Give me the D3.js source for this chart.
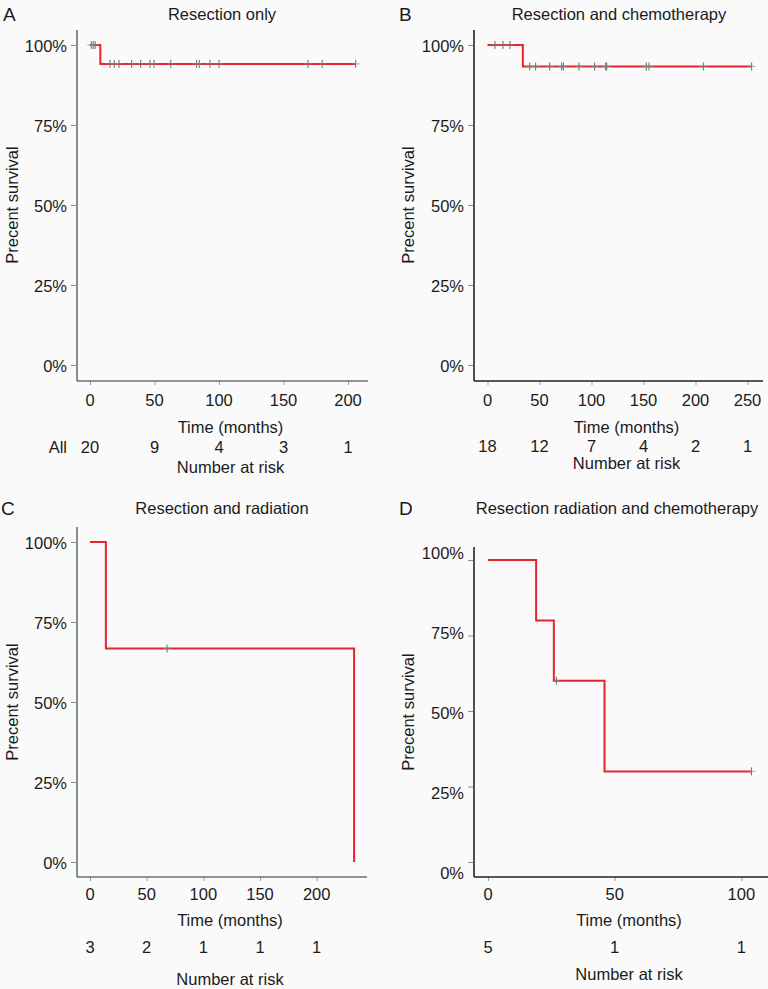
<!DOCTYPE html>
<html>
<head>
<meta charset="utf-8">
<script src="https://cdn.jsdelivr.net/npm/d3@7"></script>
<style>
  body { margin: 0; background: #fafafa; }
  svg { display: block; font-family: "Liberation Sans", Arial, sans-serif; }
  text { fill: #1a1a1a; }
</style>
</head>
<body>
<svg id="chart" width="768" height="989"></svg>
<script>
// ---- data ----
const xTicksA = [0, 50, 100, 150, 200];
const stepTimeA = [0, 8, 206];
const stepSurvA = [1, 0.941, 0.941];
const censorA = [1, 2.5, 4, 15.5, 18.8, 22.5, 32.3, 39.3, 46.5, 49.6, 62.6, 82.7, 84.7, 93, 100, 169, 180, 206];
const riskA = [20, 9, 4, 3, 1];

const xTicksB = [0, 50, 100, 150, 200, 250];
const stepTimeB = [0, 34, 254];
const stepSurvB = [1, 0.933, 0.933];
const censorB = [7.2, 14.9, 21.6, 40.6, 46.3, 59.8, 71.3, 72.9, 88, 103, 113.7, 114.6, 152.7, 155.3, 207.5, 254];
const riskB = [18, 12, 7, 4, 2, 1];

const xTicksC = [0, 50, 100, 150, 200];
const stepTimeC = [0, 14, 233];
const stepSurvC = [1, 0.667, 0];
const censorC = [68];
const riskC = [3, 2, 1, 1, 1];

const xTicksD = [0, 50, 100];
const stepTimeD = [0, 19, 26, 46, 104];
const stepSurvD = [1, 0.8, 0.6, 0.3, 0.3];
const censorD = [27, 104];
const riskD = [5, 1, 1];

const yTicks = [0, 0.25, 0.5, 0.75, 1];

// ---- panel layout ----
const panels = [
  { letter: 'A', title: 'Resection only', titleX: 222, titleY: 14, letterX: 3,
    xDomain: [0, 200], xRange: [90, 348], xTicks: xTicksA, yRange: [365, 45],
    axisX: 77, axisTop: 30, axisY: 381, axisRight: 368, axisColor: '#6c7074',
    tickY: 400, timeY: 427, riskY: 447, riskLabelY: 467, ylabX: 12, ylabY: 205,
    risk: riskA, riskName: 'All', times: stepTimeA, surv: stepSurvA, censor: censorA },
  { letter: 'B', title: 'Resection and chemotherapy', titleX: 619, titleY: 14, letterX: 399,
    xDomain: [0, 250], xRange: [487.5, 747.5], xTicks: xTicksB, yRange: [365, 45],
    axisX: 474, axisTop: 30, axisY: 381, axisRight: 763, axisColor: '#222',
    tickY: 400, timeY: 427, riskY: 446, riskLabelY: 463, ylabX: 408, ylabY: 205,
    risk: riskB, times: stepTimeB, surv: stepSurvB, censor: censorB },
  { letter: 'C', title: 'Resection and radiation', titleX: 222, titleY: 508, letterX: 1,
    xDomain: [0, 200], xRange: [90, 316.7], xTicks: xTicksC, yRange: [862, 542],
    axisX: 77, axisTop: 527, axisY: 877, axisRight: 367, axisColor: '#6c7074',
    tickY: 894, timeY: 920, riskY: 947, riskLabelY: 979, ylabX: 12, ylabY: 702,
    risk: riskC, times: stepTimeC, surv: stepSurvC, censor: censorC },
  { letter: 'D', title: 'Resection radiation and chemotherapy', titleX: 617, titleY: 508, letterX: 399,
    xDomain: [0, 100], xRange: [488, 741.3], xTicks: xTicksD, yRange: [862, 560], labelRange: [872, 552],
    axisX: 474, axisTop: 547, axisY: 877, axisRight: 768, axisColor: '#222',
    tickY: 894, timeY: 920, riskY: 947, riskLabelY: 974, ylabX: 408, ylabY: 712,
    risk: riskD, times: stepTimeD, surv: stepSurvD, censor: censorD }
];

const svg = d3.select('#chart');
const fmt = d3.format('.0%');
const fs = '16.5px';

panels.forEach(p => {
  const g = svg.append('g');
  const x = d3.scaleLinear().domain(p.xDomain).range(p.xRange);
  const y = d3.scaleLinear().domain([0, 1]).range(p.yRange);
  const yLab = d3.scaleLinear().domain([0, 1]).range(p.labelRange || p.yRange);

  // title + panel letter
  g.append('text').attr('x', p.titleX).attr('y', p.titleY).attr('dy', '0.35em')
    .attr('text-anchor', 'middle').style('font-size', fs).text(p.title);
  g.append('text').attr('x', p.letterX).attr('y', p.titleY).attr('dy', '0.36em')
    .style('font-size', '19px').text(p.letter);

  // y axis ticks (labels drawn separately so they can sit off the ticks as in D)
  const yAxisG = g.append('g').attr('transform', `translate(${p.axisX - 1},0)`)
    .call(d3.axisLeft(y).tickValues(yTicks).tickSize(5).tickSizeOuter(0).tickFormat(''));
  yAxisG.select('.domain').remove();
  yAxisG.selectAll('line').attr('stroke', '#8a8e92');
  g.selectAll('.ylab').data(yTicks).join('text')
    .attr('x', p.axisX - 10).attr('y', d => yLab(d) + 1).attr('dy', '0.35em')
    .attr('text-anchor', 'end').style('font-size', fs).text(d => fmt(d));

  // x axis ticks
  const xAxisG = g.append('g').attr('transform', `translate(0,${p.axisY})`)
    .call(d3.axisBottom(x).tickValues(p.xTicks).tickSize(4).tickSizeOuter(0).tickFormat(''));
  xAxisG.select('.domain').remove();
  xAxisG.selectAll('line').attr('stroke', '#9a9ea2');
  g.selectAll('.xlab').data(p.xTicks).join('text')
    .attr('x', d => x(d)).attr('y', p.tickY).attr('dy', '0.35em')
    .attr('text-anchor', 'middle').style('font-size', fs).text(d => d);

  // axis lines
  g.append('line').attr('x1', p.axisX).attr('x2', p.axisX).attr('y1', p.axisTop).attr('y2', p.axisY)
    .attr('stroke', p.axisColor).attr('stroke-width', 1.6);
  g.append('line').attr('x1', p.axisX).attr('x2', p.axisRight).attr('y1', p.axisY).attr('y2', p.axisY)
    .attr('stroke', p.axisColor).attr('stroke-width', 1.6);

  // axis titles
  const xMid = (p.axisX + p.axisRight) / 2;
  g.append('text').attr('x', xMid + 8).attr('y', p.timeY).attr('dy', '0.35em')
    .attr('text-anchor', 'middle').style('font-size', fs).text('Time (months)');
  g.append('text').attr('transform', `translate(${p.ylabX},${p.ylabY}) rotate(-90)`)
    .attr('dy', '0.35em').attr('text-anchor', 'middle').style('font-size', fs).text('Precent survival');

  // number at risk
  g.selectAll('.risk').data(p.risk).join('text')
    .attr('x', (d, i) => x(p.xTicks[i])).attr('y', p.riskY).attr('dy', '0.35em')
    .attr('text-anchor', 'middle').style('font-size', fs).text(d => d);
  if (p.riskName) {
    g.append('text').attr('x', p.axisX - 10).attr('y', p.riskY).attr('dy', '0.35em')
      .attr('text-anchor', 'end').style('font-size', fs).text(p.riskName);
  }
  g.append('text').attr('x', xMid + 8).attr('y', p.riskLabelY).attr('dy', '0.35em')
    .attr('text-anchor', 'middle').style('font-size', fs).text('Number at risk');

  // survival step curve
  const pts = p.times.map((t, i) => [t, p.surv[i]]);
  g.append('path').datum(pts)
    .attr('d', d3.line().x(d => x(d[0])).y(d => y(d[1])).curve(d3.curveStepAfter))
    .attr('fill', 'none').attr('stroke', '#e8232b').attr('stroke-width', 2);

  // censor marks
  const bis = d3.bisector(d => d).right;
  const survAt = t => p.surv[Math.max(0, bis(p.times, t) - 1)];
  const cg = g.selectAll('.cens').data(p.censor).join('g')
    .attr('transform', d => `translate(${x(d)},${y(survAt(d))})`);
  cg.append('line').attr('x1', 0).attr('x2', 0).attr('y1', -4).attr('y2', 4)
    .attr('stroke', '#6a6a6a').attr('stroke-width', 1);
  cg.append('line').attr('x1', -4).attr('x2', 4).attr('y1', 0).attr('y2', 0)
    .attr('stroke', '#8a8a8a').attr('stroke-width', 1).attr('stroke-opacity', 0.7);
});
</script>
</body>
</html>
